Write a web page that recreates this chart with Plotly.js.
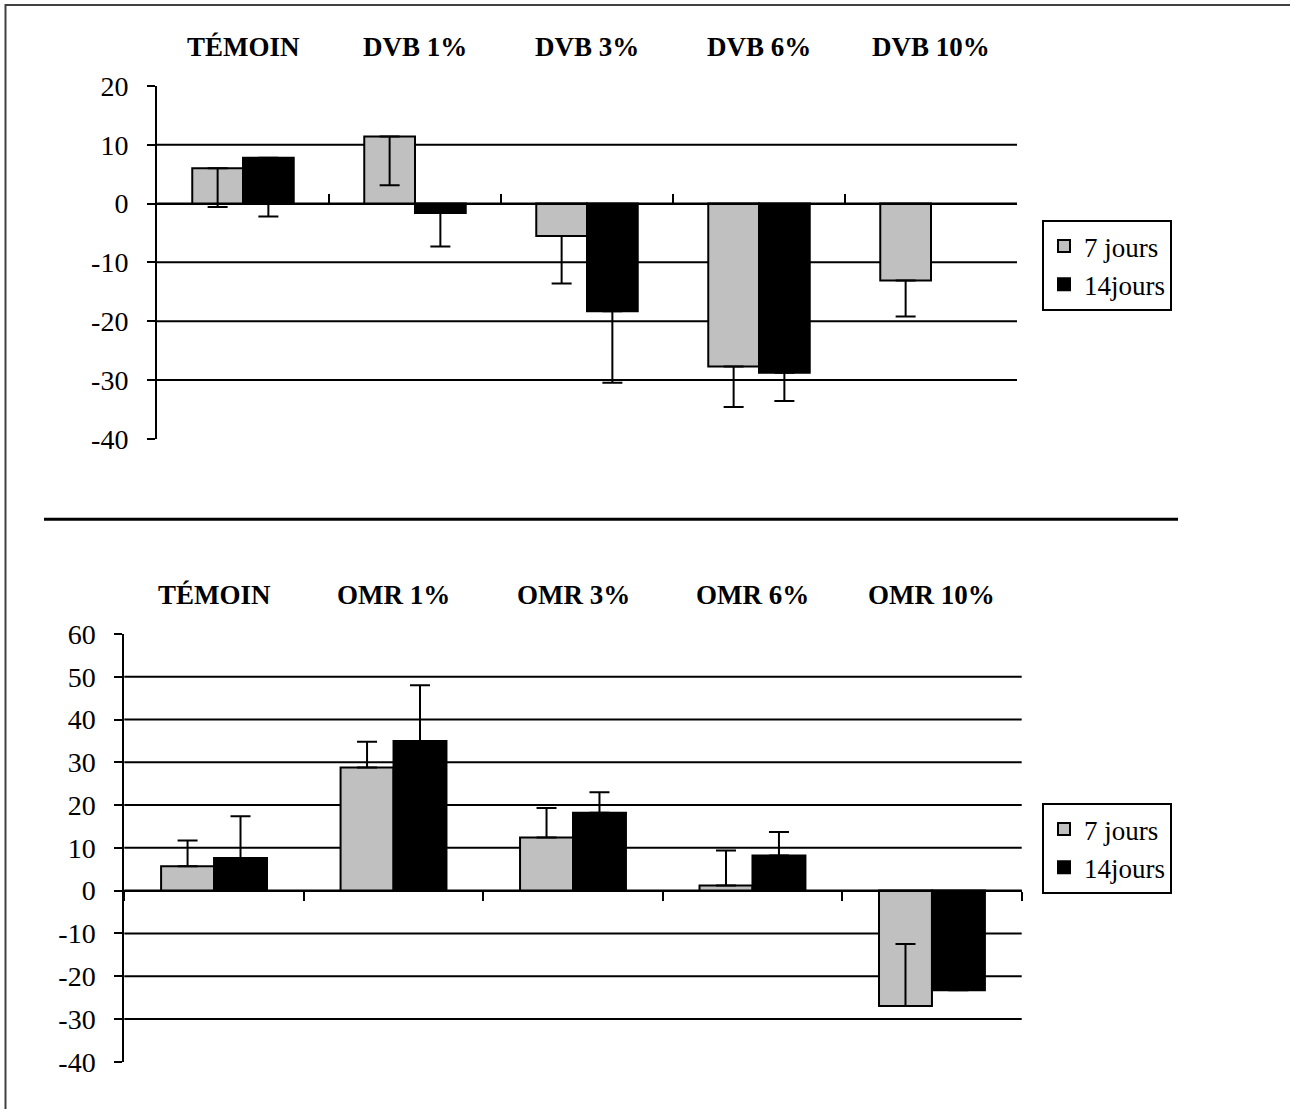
<!DOCTYPE html>
<html>
<head>
<meta charset="utf-8">
<script src="https://cdn.plot.ly/plotly-3.0.1.min.js"></script>
<style>html,body{margin:0;padding:0;background:#fff;}</style>
</head>
<body>
<div id="chart" style="width:1290px;height:1109px;"></div>
<script>
// ---- Data ----
const catsTop = ['TÉMOIN', 'DVB 1%', 'DVB 3%', 'DVB 6%', 'DVB 10%'];
const catsBot = ['TÉMOIN', 'OMR 1%', 'OMR 3%', 'OMR 6%', 'OMR 10%'];
const seriesNames = ['7 jours', '14jours'];

const top7 = [6.0, 11.4, -5.5, -27.7, -13.1];
const top7ErrMinus = [6.6, 8.3, 8.1, 6.9, 6.1];
const top14 = [7.8, -1.6, -18.3, -28.8, null];
const top14ErrMinus = [10.0, 5.7, 12.2, 4.8, null];

const bot7 = [5.7, 28.8, 12.4, 1.2, -27.0];
const bot7ErrPlus = [6.0, 6.0, 6.9, 8.2, 14.5];
const bot14 = [7.6, 35.0, 18.2, 8.2, -23.3];
const bot14ErrPlus = [9.8, 13.0, 4.8, 5.5, 0];

const yTicksTop = [20, 10, 0, -10, -20, -30, -40];
const yTicksBot = [60, 50, 40, 30, 20, 10, 0, -10, -20, -30, -40];
const gridTop = [10, 0, -10, -20, -30];
const gridBot = [50, 40, 30, 20, 10, 0, -10, -20, -30];

// ---- Styles ----
const GRAY = '#C0C0C0';
const BLACK = '#000000';
const FONT = '"Liberation Serif", "Times New Roman", serif';
const zeros = n => new Array(n).fill(0);

function barTrace(name, x, y, color, xa, ya, legend, err) {
  return {
    type: 'bar', name: name, x: x, y: y,
    xaxis: xa, yaxis: ya, legend: legend, showlegend: true,
    marker: {color: color, line: {color: BLACK, width: 2}},
    error_y: Object.assign({type: 'data', symmetric: false, color: BLACK, thickness: 2, width: 10, visible: true}, err),
    hoverinfo: 'skip'
  };
}

const traces = [
  barTrace(seriesNames[0], catsTop, top7, GRAY, 'x', 'y', 'legend',
    {array: zeros(5), arrayminus: top7ErrMinus}),
  barTrace(seriesNames[1], catsTop, top14, BLACK, 'x', 'y', 'legend',
    {array: zeros(5), arrayminus: top14ErrMinus}),
  barTrace(seriesNames[0], catsBot, bot7, GRAY, 'x2', 'y2', 'legend2',
    {array: bot7ErrPlus, arrayminus: zeros(5)}),
  barTrace(seriesNames[1], catsBot, bot14, BLACK, 'x2', 'y2', 'legend2',
    {array: bot14ErrPlus, arrayminus: zeros(5)})
];

// ---- Layout geometry ----
const W = 1290, H = 1109;
const topDomX = [157 / W, 1017 / W];
const topDomY = [1 - 438.7 / H, 1 - 86 / H];
const botDomX = [124.3 / W, 1021.7 / W];
const botDomY = [1 - 1061.7 / H, 1 - 634 / H];
const rangeTop = [-40, 20];
const rangeBot = [-40, 60];
const zeroPos = (dom, r) => dom[0] + (0 - r[0]) / (r[1] - r[0]) * (dom[1] - dom[0]);

function yAxis(dom, r, anchor, ticks) {
  return {
    domain: dom, range: r, anchor: anchor,
    tickmode: 'array', tickvals: ticks, ticktext: ticks.map(v => String(v)),
    showline: true, linecolor: BLACK, linewidth: 2,
    ticks: 'outside', ticklen: 8, tickwidth: 2, tickcolor: BLACK,
    showgrid: false, zeroline: false, ticklabelstandoff: 13,
    tickfont: {family: FONT, size: 28, color: BLACK}, fixedrange: true
  };
}
function xBarAxis(dom, pos, tickDir) {
  return {
    domain: dom, type: 'category', anchor: 'free', position: pos,
    range: [-0.5, 4.5], tickson: 'boundaries',
    showline: true, linecolor: BLACK, linewidth: 2,
    ticks: tickDir, ticklen: 9, tickwidth: 2, tickcolor: BLACK,
    showticklabels: false, showgrid: false, zeroline: false, fixedrange: true
  };
}
function catLabels(cats, xref, yref) {
  return cats.map(c => ({
    text: '<b>' + c + '</b>', x: c, xref: xref, y: 1, yref: yref + ' domain',
    xanchor: 'center', yanchor: 'bottom', yshift: 22, showarrow: false,
    font: {family: FONT, size: 27, color: BLACK}
  }));
}
function gridShapes(vals, xref, yref) {
  return vals.map(v => ({
    type: 'line', xref: xref + ' domain', yref: yref, x0: 0, x1: 1, y0: v, y1: v,
    layer: 'below', line: {color: BLACK, width: 2}
  }));
}
function legendBox(yTop) {
  return {
    x: 1042 / W, y: yTop, xanchor: 'left', yanchor: 'top',
    bgcolor: '#fff', bordercolor: BLACK, borderwidth: 2,
    font: {family: FONT, size: 27, color: BLACK}, tracegroupgap: 0,
    itemclick: false, itemdoubleclick: false
  };
}

const layout = {
  width: W, height: H, margin: {l: 0, r: 0, t: 0, b: 0},
  paper_bgcolor: '#fff', plot_bgcolor: 'rgba(0,0,0,0)',
  barmode: 'group', bargap: 0.41, bargroupgap: 0,
  showlegend: true,
  xaxis: xBarAxis(topDomX, zeroPos(topDomY, rangeTop), 'inside'),
  yaxis: yAxis(topDomY, rangeTop, 'x', yTicksTop),
  xaxis2: xBarAxis(botDomX, zeroPos(botDomY, rangeBot), 'outside'),
  yaxis2: yAxis(botDomY, rangeBot, 'x2', yTicksBot),
  legend: legendBox(1 - 220 / H),
  legend2: legendBox(1 - 803 / H),
  annotations: [].concat(catLabels(catsTop, 'x', 'y'), catLabels(catsBot, 'x2', 'y2')),
  shapes: [].concat(
    gridShapes(gridTop, 'x', 'y'),
    gridShapes(gridBot, 'x2', 'y2'),
    [
      {type: 'line', xref: 'paper', yref: 'paper', x0: 44 / W, x1: 1178 / W,
       y0: 1 - 519.3 / H, y1: 1 - 519.3 / H, line: {color: BLACK, width: 3}},
      {type: 'rect', xref: 'paper', yref: 'paper', x0: 5.5 / W, x1: 1.05,
       y0: -0.05, y1: 1 - 5 / H, line: {color: '#404040', width: 2}}
    ]
  )
};

Plotly.newPlot('chart', traces, layout, {staticPlot: true, displayModeBar: false});
</script>
</body>
</html>
